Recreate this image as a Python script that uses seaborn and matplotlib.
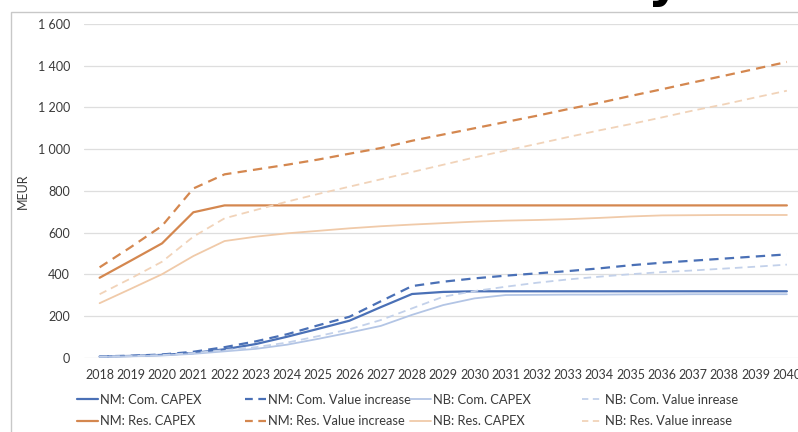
import matplotlib
matplotlib.use("Agg")
import matplotlib.pyplot as plt
from matplotlib.lines import Line2D
from matplotlib.patches import Rectangle
from matplotlib.textpath import TextPath
from matplotlib.font_manager import FontProperties
import matplotlib.ticker as mticker
import pandas as pd
import seaborn as sns

years = list(range(2018, 2041))

nm_com_capex = [5, 8, 13, 22, 40, 65, 100, 138, 177, 242, 305, 315, 318, 318, 318,
                318, 318, 318, 318, 318, 318, 318, 318]
nm_com_value = [6, 9, 15, 28, 50, 78, 112, 155, 196, 270, 343, 364, 380, 393, 404,
                415, 428, 443, 455, 465, 475, 485, 495]
nb_com_capex = [4, 6, 10, 18, 30, 42, 62, 90, 120, 152, 205, 252, 284, 300, 301,
                302, 302, 303, 303, 304, 304, 304, 304]
nb_com_value = [5, 7, 12, 22, 36, 50, 72, 103, 136, 180, 236, 292, 319, 340, 359,
                375, 388, 400, 410, 418, 427, 436, 446]
nm_res_capex = [383, 465, 548, 697, 730, 730, 730, 730, 730, 730, 730, 730, 730,
                730, 730, 730, 730, 730, 730, 730, 730, 730, 730]
nm_res_value = [433, 530, 632, 811, 879, 902, 925, 950, 978, 1005, 1040, 1070, 1100,
                1130, 1160, 1192, 1222, 1255, 1287, 1320, 1352, 1385, 1418]
nb_res_capex = [261, 330, 400, 487, 559, 580, 596, 608, 620, 630, 638, 645, 652,
                657, 660, 664, 670, 677, 682, 683, 684, 684, 684]
nb_res_value = [304, 380, 460, 580, 668, 708, 748, 785, 820, 855, 890, 925, 960,
                993, 1025, 1058, 1090, 1120, 1152, 1185, 1215, 1248, 1280]

y_ticks = [0, 200, 400, 600, 800, 1000, 1200, 1400, 1600]

DARK_BLUE = "#4a70b6"
LIGHT_BLUE = "#b3c5e5"
DARK_ORANGE = "#d4874f"
LIGHT_ORANGE = "#f0caa9"
LIGHT_ORANGE_D = "#f1d3b9"
LIGHT_BLUE_D = "#c3d1ea"
TEXT = "#3a3a3a"

# label, values, colour, dashed, linewidth
series = [
    ("NM: Com. CAPEX", nm_com_capex, DARK_BLUE, False, 1.6),
    ("NM: Com. Value increase", nm_com_value, DARK_BLUE, True, 1.6),
    ("NB: Com. CAPEX", nb_com_capex, LIGHT_BLUE, False, 1.3),
    ("NB: Com. Value inrease", nb_com_value, LIGHT_BLUE_D, True, 1.3),
    ("NM: Res. CAPEX", nm_res_capex, DARK_ORANGE, False, 1.6),
    ("NM: Res. Value increase", nm_res_value, DARK_ORANGE, True, 1.6),
    ("NB: Res. CAPEX", nb_res_capex, LIGHT_ORANGE, False, 1.3),
    ("NB: Res. Value inrease", nb_res_value, LIGHT_ORANGE_D, True, 1.3),
]

sns.set_theme(style="white")
plt.rcParams["font.family"] = ["Lato", "DejaVu Sans"]
plt.rcParams["font.size"] = 9.5

DPI = 100
fig = plt.figure(figsize=(7.98, 4.32), dpi=DPI)
ax = fig.add_axes([84 / 798, 1 - 357.6 / 432, 718.5 / 798, (357.6 - 24) / 432])

# chart frame
fig.patches.append(Rectangle((11 / 798, -0.1), 1.0, 1 - 12 / 432 + 0.1,
                             transform=fig.transFigure, fill=False,
                             edgecolor="#c8c8c8", linewidth=1.0))

handles = {}
for label, vals, color, dashed, lw in series:
    df = pd.DataFrame({"year": years, "value": vals})
    sns.lineplot(data=df, x="year", y="value", ax=ax, color=color,
                 linewidth=lw, estimator=None, legend=False)
    line = ax.lines[-1]
    if dashed:
        line.set_dashes((4.2, 2.8))
    handles[label] = Line2D([], [], color=color, linewidth=lw,
                            dashes=(3.5, 2.5) if dashed else (None, None))

ax.set_xlim(2017.5, 2040.5)
ax.set_ylim(0, 1600)
ax.set_xticks(years)
ax.set_xticklabels([str(y) for y in years])
ax.set_yticks(y_ticks)
ax.yaxis.set_major_formatter(mticker.FuncFormatter(
    lambda v, p: f"{int(v):,}".replace(",", " ")))
ax.grid(axis="y", color="#dedede", linewidth=0.9)
ax.grid(axis="x", visible=False)
for s in ax.spines.values():
    s.set_visible(False)
ax.tick_params(axis="x", length=0, pad=8, labelsize=9, colors=TEXT)
ax.tick_params(axis="y", length=0, pad=10, labelsize=9, colors=TEXT)
ax.set_xlabel("")
ax.set_ylabel("MEUR", fontsize=9, color=TEXT)
ax.yaxis.set_label_coords((29 - 84) / 718.5, 0.5)
ax.set_axisbelow(True)

# legend: four columns of two entries each
columns = [
    (77, ["NM: Com. CAPEX", "NM: Res. CAPEX"]),
    (245, ["NM: Com. Value increase", "NM: Res. Value increase"]),
    (410, ["NB: Com. CAPEX", "NB: Res. CAPEX"]),
    (582, ["NB: Com. Value inrease", "NB: Res. Value inrease"]),
]
for xpix, labels in columns:
    fig.legend([handles[l] for l in labels], labels,
               loc="upper left", bbox_to_anchor=(xpix / 798, 1 - 394 / 432),
               frameon=False, handlelength=1.6, handletextpad=0.15,
               borderpad=0, borderaxespad=0, labelspacing=0.7,
               fontsize=9.3, labelcolor=TEXT)

# tail of the heading above the frame: only the bottom 8 px of the
# glyph's descender falls inside the figure
title_size = 36
title_prop = FontProperties(family="DejaVu Sans", weight="bold", size=title_size)
glyph = TextPath((0, 0), "y", size=title_size, prop=title_prop)
descent_px = -glyph.vertices[:, 1].min() * DPI / 72
baseline_from_top = 8 - descent_px
fig.text(664 / 798, 1 - baseline_from_top / 432, "y", fontproperties=title_prop,
         ha="center", va="baseline", color="black")

fig.savefig("out.png", dpi=DPI)
